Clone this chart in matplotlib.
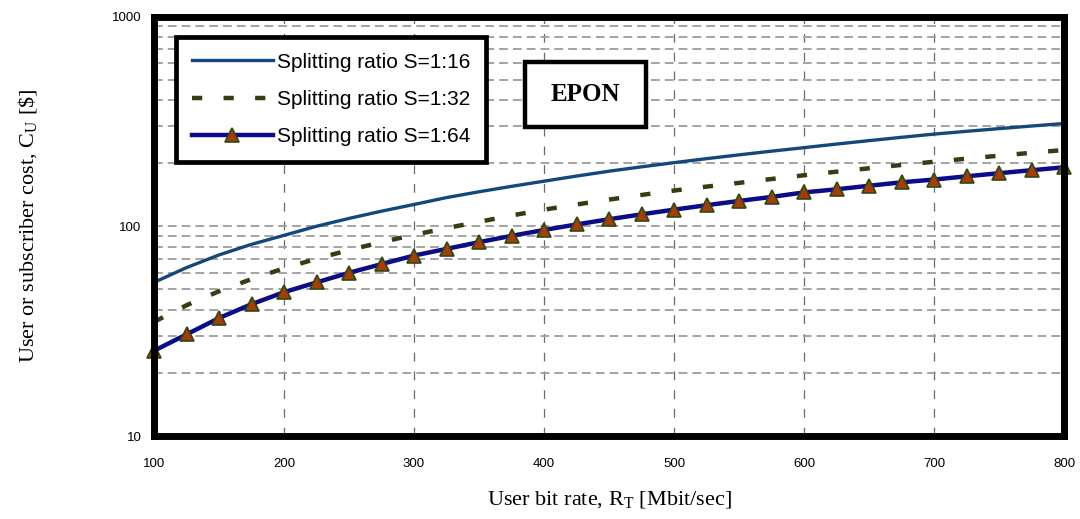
import matplotlib
matplotlib.use('Agg')
import matplotlib.pyplot as plt
from matplotlib.patches import Rectangle
from matplotlib.ticker import FixedLocator, NullFormatter


###############################################################################
# Data
###############################################################################

# User bit rate [Mbit/sec]
rate = list(range(100, 801, 25))

# User cost [$]
cost_s16 = [54, 63.5, 73, 82, 90.5, 100, 109, 118, 127, 137, 146, 155,
            164, 173.5, 183, 192, 201, 210, 219, 228, 237, 246.5, 256,
            265.5, 275, 283.5, 292, 300.5, 309]
cost_s32 = [35, 42, 49, 56, 63, 70, 77, 84, 91, 98, 105, 112.5, 120, 127,
            134, 141, 148, 154.5, 161, 168, 175, 182, 189, 196, 203, 210,
            217, 224, 231]
cost_s64 = [25.5, 30.5, 36.5, 42.5, 48.5, 54, 60, 66, 72.5, 78, 84, 90,
            96, 102, 108, 114, 120, 126, 132, 138, 145, 150, 156, 162,
            167, 173, 179, 185, 191]

labels = ['Splitting ratio S=1:16',
          'Splitting ratio S=1:32',
          'Splitting ratio S=1:64']
xticks = [100, 200, 300, 400, 500, 600, 700, 800]
yticks = [10, 100, 1000]


###############################################################################
# Plot
###############################################################################

sans = ['Liberation Sans', 'DejaVu Sans']
serif = ['Liberation Serif', 'DejaVu Serif']
plt.rcParams['mathtext.fontset'] = 'custom'
plt.rcParams['mathtext.rm'] = 'Liberation Serif'

figure = plt.figure(figsize=(10.8, 5.19), dpi=100)
ax = figure.add_axes([0.1426, 0.1599, 0.8426, 0.8083])

# Curves
ax.plot(rate, cost_s16, color='#13497a', linewidth=2.4,
        label=labels[0], zorder=3)
ax.plot(rate, cost_s32, color='#3b3a12', linewidth=3.2,
        dashes=(2.3, 4.8), label=labels[1], zorder=3)
ax.plot(rate, cost_s64, color='#0c0c8a', linewidth=3.2,
        marker='^', markersize=10, markerfacecolor='#a83c05',
        markeredgecolor='#2c4a12', markeredgewidth=1.2,
        label=labels[2], zorder=4, clip_on=False)

# Axes
ax.set_yscale('log')
ax.set_xlim(100, 800)
ax.set_ylim(10, 1000)
ax.xaxis.set_major_locator(FixedLocator(xticks))
ax.yaxis.set_major_locator(FixedLocator(yticks))
ax.yaxis.set_minor_locator(FixedLocator(
    [m * d for d in (10, 100) for m in range(2, 10)]))
ax.yaxis.set_minor_formatter(NullFormatter())
ax.set_xticklabels([str(t) for t in xticks], family=sans, fontsize=9.5)
ax.set_yticklabels([str(t) for t in yticks], family=sans, fontsize=9.5)
ax.tick_params(which='both', length=0)
ax.tick_params(axis='x', pad=16)
ax.tick_params(axis='y', pad=9)

for spine in ax.spines.values():
    spine.set_linewidth(5)
    spine.set_zorder(5)

# Grid
ax.grid(axis='y', which='both', color='#a3a3a3', linewidth=1.4,
        dashes=(4.5, 2.6))
ax.grid(axis='x', which='major', color='#6a6a6a', linewidth=0.9,
        dashes=(7, 8))
ax.set_axisbelow(True)

# Labels
ax.set_xlabel(r'User bit rate, R$_\mathregular{T}$ [Mbit/sec]',
              family=serif, fontsize=16, labelpad=14)
ax.set_ylabel(r'User or subscriber cost, C$_\mathregular{U}$ [\$]',
              family=serif, fontsize=16, labelpad=52)

# Legend
legend = ax.legend(loc='upper left', bbox_to_anchor=(176 / 1080, 1 - 37 / 519),
                   bbox_transform=figure.transFigure, prop={'family': sans,
                   'size': 15}, handlelength=3.9, handletextpad=0.2,
                   labelspacing=0.88, borderpad=0.75, borderaxespad=0,
                   fancybox=False, framealpha=1, edgecolor='black')
legend.get_frame().set_linewidth(3.4)
legend.set_zorder(6)

# EPON box
box = Rectangle((525 / 1080, 1 - 127 / 519), 121 / 1080, 65 / 519,
                transform=figure.transFigure, facecolor='white',
                edgecolor='black', linewidth=3.2, zorder=6)
ax.add_patch(box)
ax.text((525 + 60.5) / 1080, 1 - 94.5 / 519, 'EPON', transform=figure.transFigure,
        ha='center', va='center', family=serif, fontsize=18,
        fontweight='bold', zorder=7)

figure.savefig('out.png', dpi=100)
